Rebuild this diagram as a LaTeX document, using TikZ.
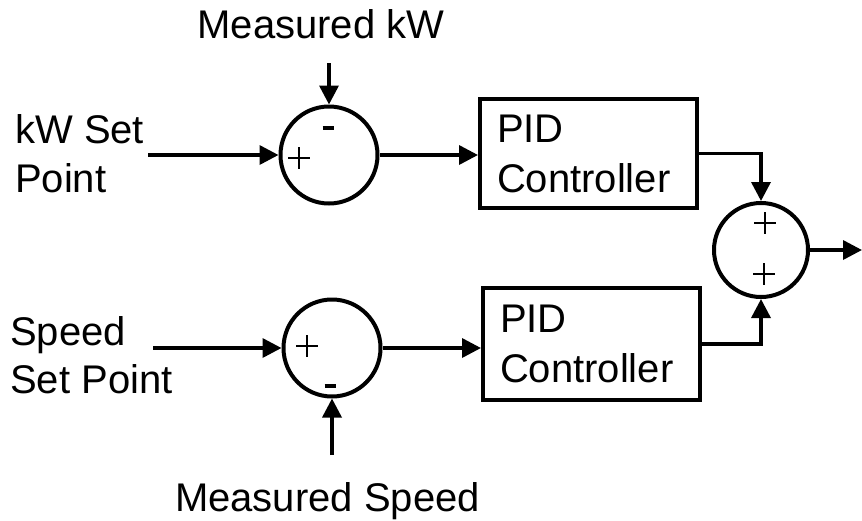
\documentclass[tikz,border=0pt]{standalone}
\usepackage{fontspec}
\setmainfont{Liberation Sans}
\usetikzlibrary{arrows.meta,calc}
\begin{document}
\begin{tikzpicture}[x=1pt,y=-1pt,
  every node/.style={font=\fontsize{40}{50}\selectfont},
  sumnode/.style={draw,circle,line width=4pt,minimum size=97pt,inner sep=0pt},
  pidbox/.style={draw,rectangle,line width=4pt,text width=183pt,inner xsep=17pt,inner ysep=0pt,align=left},
  lbl/.style={inner sep=0pt},
  conn/.style={line width=3.5pt,-{Triangle[length=19pt,width=19pt]}},
  plusmark/.pic={\draw[line width=1.6pt] (-11,0)--(11,0) (0,-11)--(0,11);},
  minusmark/.pic={\draw[line width=3.5pt] (-5.5,0)--(5.5,0);}
]
\useasboundingbox (0,0) rectangle (862,520);

% summing junctions
\node[sumnode] (sum1) at (329,155) {};
\node[sumnode] (sum2) at (332,348) {};
\node[sumnode,minimum size=94pt] (sum3) at (761,250) {};

% PID boxes
\node[pidbox,minimum height=109pt] (pid1) at (588.5,153.5) {PID\\Controller};
\node[pidbox,minimum height=112pt] (pid2) at (591.5,344) {PID\\Controller};

% labels
\node[lbl,anchor=base] (mkwlbl) at (321,38) {Measured kW};
\node[lbl,anchor=base west] (kw1) at (15,143) {kW Set};
\node[lbl,anchor=base west] (kw2) at (15,192) {Point};
\node[lbl,anchor=base west] (sp1) at (10,345) {Speed};
\node[lbl,anchor=base west] (sp2) at (10,393) {Set Point};
\node[lbl,anchor=base] (msplbl) at (327.5,511) {Measured Speed};

% signs
\pic at (299,158) {plusmark};
\pic at (328,128) {minusmark};
\pic at (307,346) {plusmark};
\pic at (330,386) {minusmark};
\pic at (765,223) {plusmark};
\pic at (764,274) {plusmark};

% free ends
\coordinate (kwin) at (148,155);
\coordinate (mkw) at (329,63);
\coordinate (spin) at (153,348);
\coordinate (msp) at (332,455);
\coordinate (out) at (862,250);

% connectors
\draw[conn] (kwin) -- (sum1.west);
\draw[conn] (mkw) -- (sum1.north);
\draw[conn] (sum1.east) -- (sum1.east -| pid1.west);
\draw[conn] (pid1.east) -| (sum3.north);
\draw[conn] (spin) -- (sum2.west);
\draw[conn] (msp) -- (sum2.south);
\draw[conn] (sum2.east) -- (sum2.east -| pid2.west);
\draw[conn] (pid2.east) -| (sum3.south);
\draw[conn] (sum3.east) -- (out);
\end{tikzpicture}
\end{document}
